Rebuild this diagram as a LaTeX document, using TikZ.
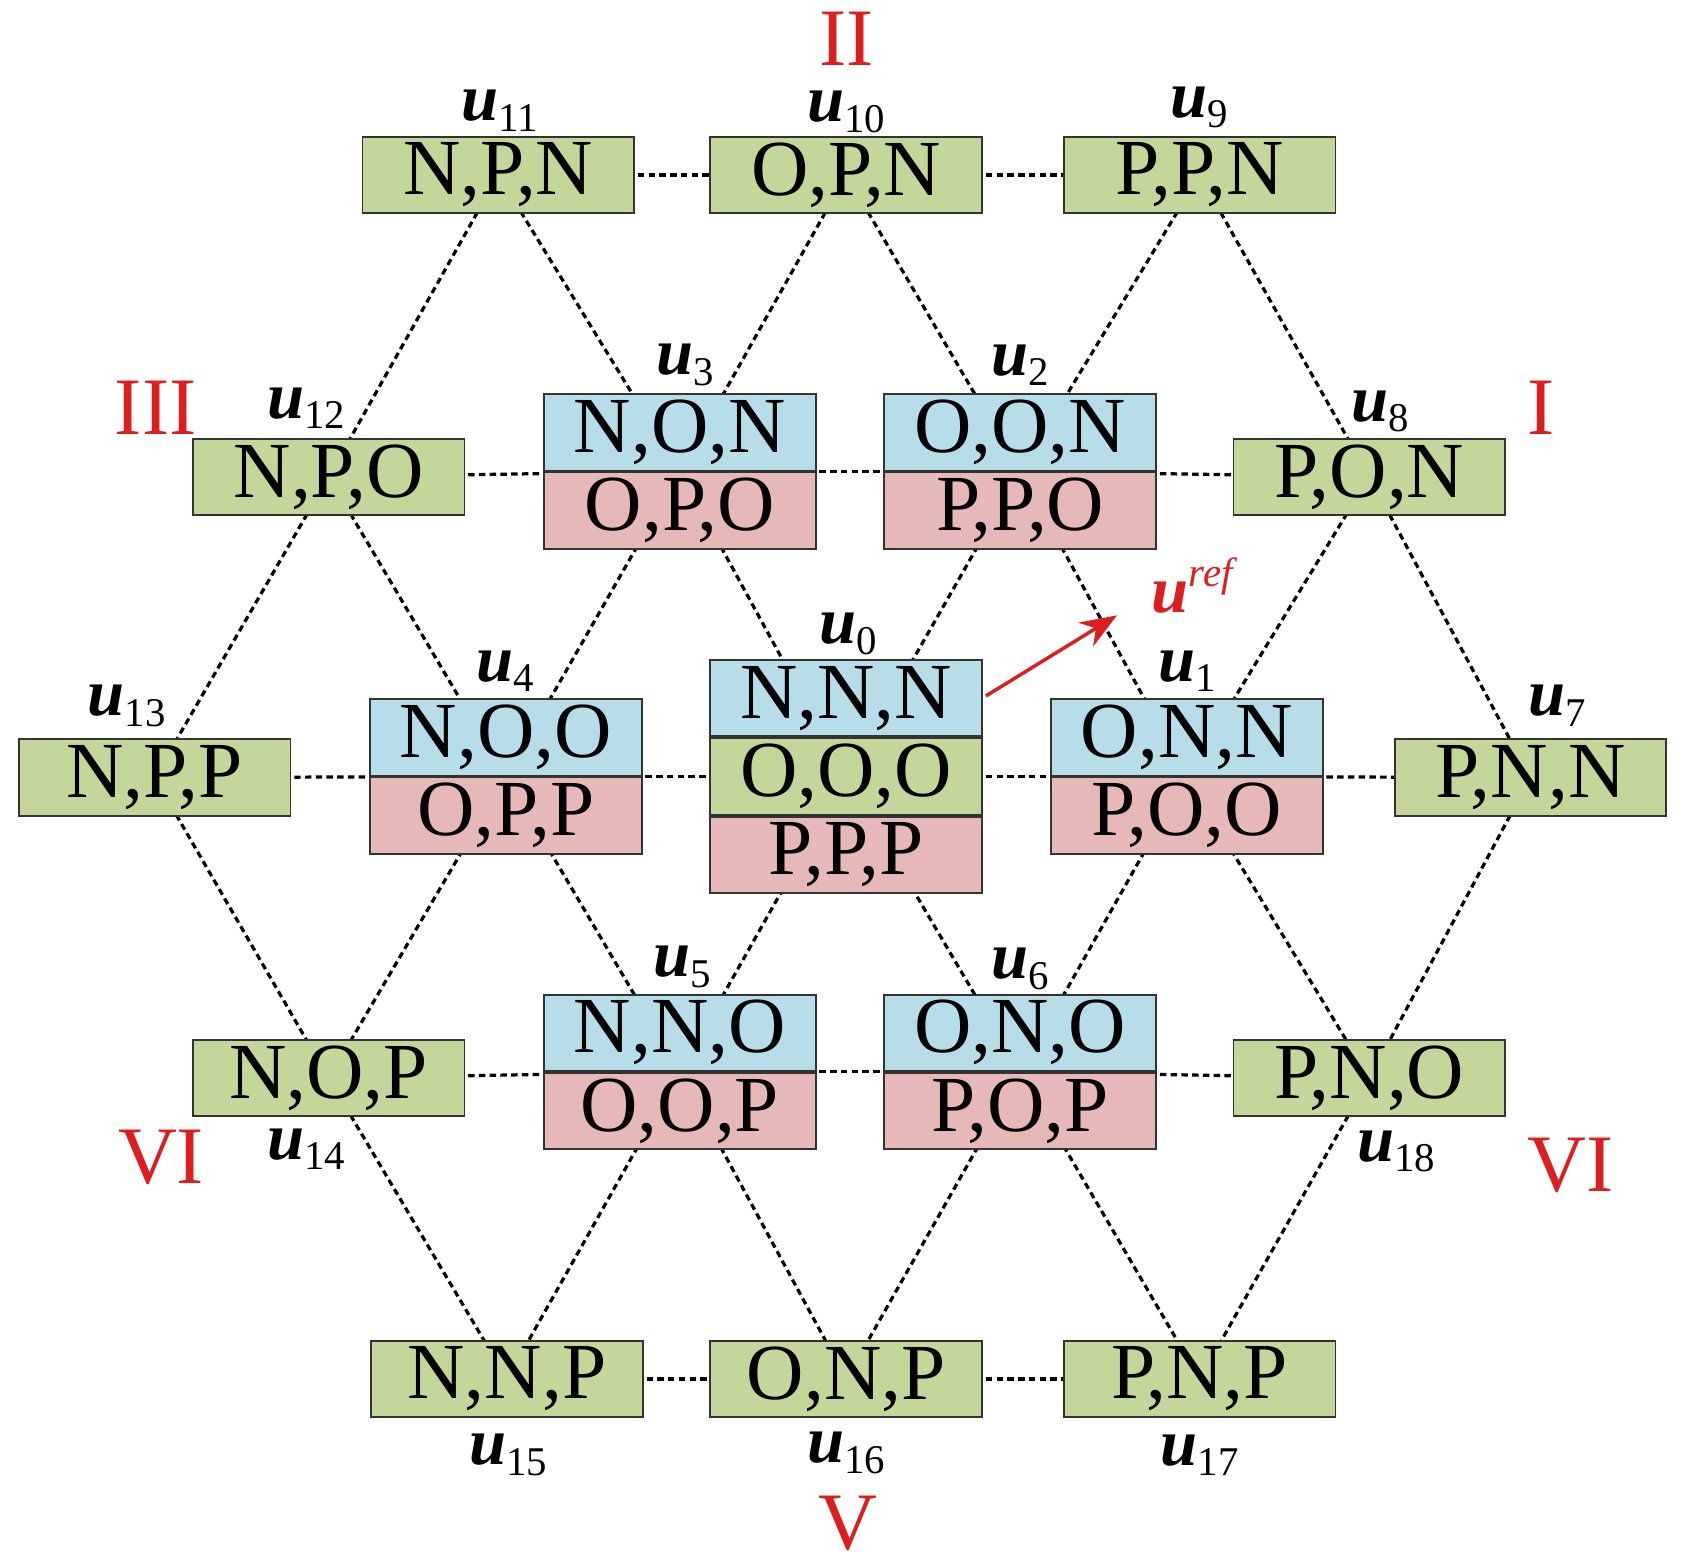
\documentclass[tikz,border=0pt]{standalone}
\usepackage{fontspec}
\setmainfont{Liberation Serif}
\usetikzlibrary{arrows.meta}
\definecolor{gbox}{RGB}{196,215,155}
\definecolor{bbox}{RGB}{183,222,232}
\definecolor{pbox}{RGB}{230,185,184}
\definecolor{rn}{RGB}{220,30,30}
\newcommand{\ulab}[1]{\textbf{\textit{u}}\raisebox{-5pt}{\fontsize{19}{19}\selectfont #1}}
\begin{document}
\begin{tikzpicture}[x=0.5pt,y=-0.5pt,
  cell/.style={draw=black!80,line width=0.9pt,minimum width=126.5pt,minimum height=35.5pt,inner sep=0pt,font=\fontsize{37}{37}\selectfont},
  lnk/.style={line width=1.5pt,dash pattern=on 3pt off 2pt},
  ul/.style={font=\fontsize{31}{31}\selectfont,inner sep=0pt},
  roman/.style={text=rn,font=\fontsize{38}{38}\selectfont,inner sep=0pt}]
\useasboundingbox (0,0) rectangle (1568,1458);
% lattice centers
\coordinate (c11) at (464,163); \coordinate (c10) at (788,163); \coordinate (c9) at (1117,163);
\coordinate (c12) at (306,444); \coordinate (c3) at (633,439); \coordinate (c2) at (950,439); \coordinate (c8) at (1275,444);
\coordinate (c13) at (144,724); \coordinate (c4) at (471,723); \coordinate (c0) at (788,723); \coordinate (c1) at (1105,723); \coordinate (c7) at (1425,724);
\coordinate (c14) at (306,1004); \coordinate (c5) at (633,998); \coordinate (c6) at (950,998); \coordinate (c18) at (1275,1004);
\coordinate (c15) at (472,1284); \coordinate (c16) at (788,1284); \coordinate (c17) at (1117,1284);
% links
\foreach \a/\b in {11/10,10/9,12/3,3/2,2/8,13/4,4/0,0/1,1/7,14/5,5/6,6/18,15/16,16/17,
  11/12,11/3,10/3,10/2,9/2,9/8,
  12/13,12/4,3/4,3/0,2/0,2/1,8/1,8/7,
  13/14,4/14,4/5,0/5,0/6,1/6,1/18,7/18,
  14/15,5/15,5/16,6/16,6/17,18/17}
  \draw[lnk] (c\a) -- (c\b);
% single boxes
\foreach \n/\t in {11/{N,P,N},10/{O,P,N},9/{P,P,N},12/{N,P,O},8/{P,O,N},13/{N,P,P},7/{P,N,N},14/{N,O,P},18/{P,N,O},15/{N,N,P},16/{O,N,P},17/{P,N,P}}
  \node[cell,fill=gbox] (b\n) at (c\n) {\t};
% double boxes
\foreach \n/\t/\s in {3/{N,O,N}/{O,P,O},2/{O,O,N}/{P,P,O},4/{N,O,O}/{O,P,P},1/{O,N,N}/{P,O,O},5/{N,N,O}/{O,O,P},6/{O,N,O}/{P,O,P}}{
  \node[cell,fill=bbox,anchor=south] (t\n) at (c\n) {\t};
  \node[cell,fill=pbox,anchor=north] (s\n) at (c\n) {\s};}
% triple
\node[cell,fill=gbox] (m0) at (c0) {O,O,O};
\node[cell,fill=bbox,anchor=south] (t0) at (m0.north) {N,N,N};
\node[cell,fill=pbox,anchor=north] (s0) at (m0.south) {P,P,P};
% u labels
\foreach \n/\x/\y in {11/465/103,10/788/104,9/1117/100,3/638/340,2/950/340,12/285/380,8/1285/383,0/790/590,4/470/625,1/1105/625,13/118/657,7/1450/657,5/635/900,6/950/902,14/285/1070,18/1300/1072,15/473/1355,16/788/1353,17/1117/1355}
  \node[ul] (l\n) at (\x,\y) {\ulab{\n}};
% roman
\node[roman] (r2) at (788,36) {II};
\node[roman] (r3) at (145,380) {III};
\node[roman] (r1) at (1435,380) {I};
\node[roman] (r6a) at (150,1078) {VI};
\node[roman] (r6b) at (1462,1085) {VI};
\node[roman] (r5) at (790,1418) {V};
% ref arrow
\coordinate (a0) at (918,648);
\coordinate (a1) at (1040,573);
\draw[rn,line width=1.6pt,-{Stealth[length=17pt,width=13pt]}] (a0) -- (a1);
\node[text=rn,font=\fontsize{31}{31}\selectfont,inner sep=0pt] (uref) at (1110,545) {\textbf{\textit{u}}\raisebox{12pt}{\fontsize{19}{19}\selectfont\itshape ref}};
\end{tikzpicture}
\end{document}
